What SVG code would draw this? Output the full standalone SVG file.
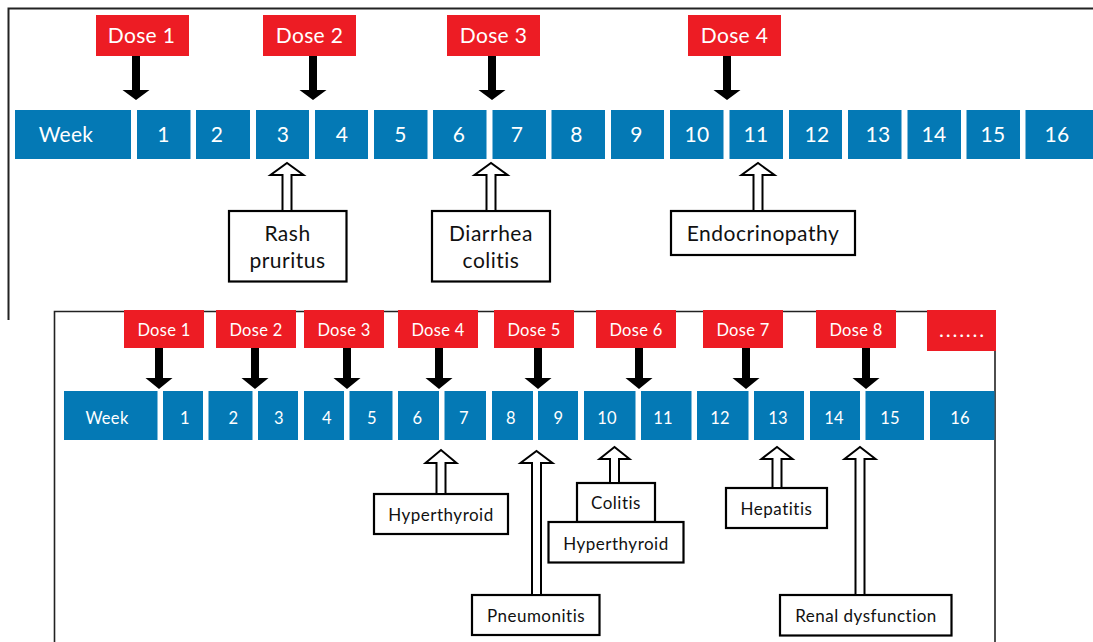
<svg xmlns="http://www.w3.org/2000/svg" width="1093" height="642" viewBox="0 0 1093 642">
<style>
.wk{fill:#0479B5}
.dose{fill:#ED1C24}
.tw{fill:#fff;font-family:Lato,"Noto Sans",sans-serif;text-anchor:middle;letter-spacing:0.3px}
.t1{font-size:21px}
.t2{font-size:16.5px}
.t3{font-size:17px}
.tb{fill:#111;font-family:Lato,"Noto Sans",sans-serif;text-anchor:middle;letter-spacing:0.5px}
.box{fill:#fff;stroke:#000;stroke-width:2.2}
.sa{fill:#000}
.ha{fill:#fff;stroke:#000;stroke-width:2}
.frame{fill:none;stroke:#222}
</style>
<rect width="1093" height="642" fill="#fff"/>
<g id="frames">
<path class="frame" d="M8.5,320 V8.5 H1093" stroke-width="2"/>
<path class="frame" d="M54.5,642 V311.5 H995 V642" stroke-width="1.6"/>
</g>
<!-- Top timeline -->
<g id="top-weeks">
<rect class="wk" x="15" y="110" width="116" height="49"/><text class="tw t1" x="66" y="142">Week</text>
<rect class="wk" x="137" y="110" width="53.5" height="49"/><text class="tw t1" x="163.5" y="142">1</text>
<rect class="wk" x="196" y="110" width="54" height="49"/><text class="tw t1" x="217" y="142">2</text>
<rect class="wk" x="256" y="110" width="53" height="49"/><text class="tw t1" x="283" y="142">3</text>
<rect class="wk" x="315" y="110" width="53" height="49"/><text class="tw t1" x="342" y="142">4</text>
<rect class="wk" x="374" y="110" width="53.5" height="49"/><text class="tw t1" x="400.5" y="142">5</text>
<rect class="wk" x="433" y="110" width="53.5" height="49"/><text class="tw t1" x="459" y="142">6</text>
<rect class="wk" x="492.5" y="110" width="53.5" height="49"/><text class="tw t1" x="517" y="142">7</text>
<rect class="wk" x="551.5" y="110" width="53.5" height="49"/><text class="tw t1" x="576.5" y="142">8</text>
<rect class="wk" x="611" y="110" width="53" height="49"/><text class="tw t1" x="636.5" y="142">9</text>
<rect class="wk" x="670" y="110" width="53.5" height="49"/><text class="tw t1" x="697" y="142">10</text>
<rect class="wk" x="729.5" y="110" width="53.5" height="49"/><text class="tw t1" x="756" y="142">11</text>
<rect class="wk" x="789" y="110" width="53" height="49"/><text class="tw t1" x="817" y="142">12</text>
<rect class="wk" x="848" y="110" width="53.5" height="49"/><text class="tw t1" x="878" y="142">13</text>
<rect class="wk" x="907.5" y="110" width="53.5" height="49"/><text class="tw t1" x="934" y="142">14</text>
<rect class="wk" x="966.5" y="110" width="53.5" height="49"/><text class="tw t1" x="993" y="142">15</text>
<rect class="wk" x="1025.5" y="110" width="67.5" height="49"/><text class="tw t1" x="1057" y="142">16</text>
</g>
<g id="top-doses">
<rect class="dose" x="96" y="15" width="93" height="41"/><text class="tw t1" x="141.5" y="43">Dose 1</text>
<rect class="dose" x="263" y="15" width="93" height="41"/><text class="tw t1" x="309.5" y="43">Dose 2</text>
<rect class="dose" x="447" y="15" width="93" height="41"/><text class="tw t1" x="493.5" y="43">Dose 3</text>
<rect class="dose" x="688" y="15" width="93" height="41"/><text class="tw t1" x="734.5" y="43">Dose 4</text>
</g>
<g id="top-events">
<rect class="box" x="229" y="211" width="117.5" height="70.5"/>
<text class="tb t1" x="287.5" y="241">Rash</text><text class="tb t1" x="287.5" y="268">pruritus</text>
<rect class="box" x="432" y="211" width="118" height="70.5"/>
<text class="tb t1" x="491" y="241">Diarrhea</text><text class="tb t1" x="491" y="268">colitis</text>
<rect class="box" x="671" y="211" width="184" height="44"/>
<text class="tb t1" x="763" y="241">Endocrinopathy</text>
</g>
<!-- Bottom timeline -->
<g id="bottom-weeks">
<rect class="wk" x="64" y="391" width="93.5" height="49"/><text class="tw t2" x="107" y="424">Week</text>
<rect class="wk" x="163" y="391" width="40" height="49"/><text class="tw t2" x="185" y="424">1</text>
<rect class="wk" x="208.5" y="391" width="44" height="49"/><text class="tw t2" x="233.5" y="424">2</text>
<rect class="wk" x="258" y="391" width="40" height="49"/><text class="tw t2" x="279" y="424">3</text>
<rect class="wk" x="304" y="391" width="40" height="49"/><text class="tw t2" x="327" y="424">4</text>
<rect class="wk" x="349.5" y="391" width="43" height="49"/><text class="tw t2" x="372" y="424">5</text>
<rect class="wk" x="398" y="391" width="41" height="49"/><text class="tw t2" x="417.5" y="424">6</text>
<rect class="wk" x="444.5" y="391" width="41.5" height="49"/><text class="tw t2" x="464" y="424">7</text>
<rect class="wk" x="492" y="391" width="41" height="49"/><text class="tw t2" x="511" y="424">8</text>
<rect class="wk" x="538" y="391" width="40" height="49"/><text class="tw t2" x="558.5" y="424">9</text>
<rect class="wk" x="584" y="391" width="51.5" height="49"/><text class="tw t2" x="607" y="424">10</text>
<rect class="wk" x="641" y="391" width="50.5" height="49"/><text class="tw t2" x="663" y="424">11</text>
<rect class="wk" x="697" y="391" width="51.5" height="49"/><text class="tw t2" x="720" y="424">12</text>
<rect class="wk" x="754" y="391" width="50" height="49"/><text class="tw t2" x="778" y="424">13</text>
<rect class="wk" x="810" y="391" width="50" height="49"/><text class="tw t2" x="834" y="424">14</text>
<rect class="wk" x="865.5" y="391" width="58.5" height="49"/><text class="tw t2" x="890" y="424">15</text>
<rect class="wk" x="930" y="391" width="64.5" height="49"/><text class="tw t2" x="960" y="424">16</text>
</g>
<g id="bottom-doses">
<rect class="dose" x="124" y="310" width="80" height="38"/><text class="tw t2" x="164" y="335.5">Dose 1</text>
<rect class="dose" x="216" y="310" width="80" height="38"/><text class="tw t2" x="256" y="335.5">Dose 2</text>
<rect class="dose" x="304" y="310" width="80" height="38"/><text class="tw t2" x="344" y="335.5">Dose 3</text>
<rect class="dose" x="398" y="310" width="80" height="38"/><text class="tw t2" x="438" y="335.5">Dose 4</text>
<rect class="dose" x="494" y="310" width="80" height="38"/><text class="tw t2" x="534" y="335.5">Dose 5</text>
<rect class="dose" x="596" y="310" width="80" height="38"/><text class="tw t2" x="636" y="335.5">Dose 6</text>
<rect class="dose" x="703" y="310" width="80" height="38"/><text class="tw t2" x="743" y="335.5">Dose 7</text>
<rect class="dose" x="816" y="310" width="80" height="38"/><text class="tw t2" x="856" y="335.5">Dose 8</text>
<rect class="dose" x="927" y="310" width="69" height="41"/><text class="tw t2" x="963" y="337" style="font-weight:bold;letter-spacing:2.8px">.......</text>
</g>
<g id="bottom-events">
<rect class="box" x="374" y="494" width="134" height="40"/><text class="tb t3" x="441" y="521">Hyperthyroid</text>
<rect class="box" x="472" y="595" width="127.5" height="40"/><text class="tb t3" x="536" y="621.5">Pneumonitis</text>
<rect class="box" x="577" y="483" width="78" height="39"/><text class="tb t3" x="616" y="508.5">Colitis</text>
<rect class="box" x="548.5" y="522" width="135" height="40.5"/><text class="tb t3" x="616" y="550">Hyperthyroid</text>
<rect class="box" x="726" y="488" width="101" height="40"/><text class="tb t3" x="776.5" y="515">Hepatitis</text>
<rect class="box" x="780" y="595" width="171.5" height="40.5"/><text class="tb t3" x="866" y="621.5">Renal dysfunction</text>
</g>
<g id="connectors">
<!-- top solid dose arrows -->
<polygon class="sa" points="132,56 140,56 140,90 149.5,90 136,100 122.5,90 132,90"/>
<polygon class="sa" points="309,56 317,56 317,90 326.5,90 313,100 299.5,90 309,90"/>
<polygon class="sa" points="488,56 496,56 496,90 505.5,90 492,100 478.5,90 488,90"/>
<polygon class="sa" points="723,56 731,56 731,90 740.5,90 727,100 713.5,90 723,90"/>
<!-- bottom solid dose arrows -->
<polygon class="sa" points="155,348 163,348 163,378 172.5,378 159,389 145.5,378 155,378"/>
<polygon class="sa" points="251,348 259,348 259,378 268.5,378 255,389 241.5,378 251,378"/>
<polygon class="sa" points="343,348 351,348 351,378 360.5,378 347,389 333.5,378 343,378"/>
<polygon class="sa" points="435,348 443,348 443,378 452.5,378 439,389 425.5,378 435,378"/>
<polygon class="sa" points="534,348 542,348 542,378 551.5,378 538,389 524.5,378 534,378"/>
<polygon class="sa" points="635,348 643,348 643,378 652.5,378 639,389 625.5,378 635,378"/>
<polygon class="sa" points="742,348 750,348 750,378 759.5,378 746,389 732.5,378 742,378"/>
<polygon class="sa" points="862,348 870,348 870,378 879.5,378 866,389 852.5,378 862,378"/>
<!-- top hollow event arrows -->
<polygon class="ha" points="282.5,211 291.5,211 291.5,175 303.5,175 287,163 270.5,175 282.5,175"/>
<polygon class="ha" points="486.5,211 495.5,211 495.5,175 507.5,175 491,163 474.5,175 486.5,175"/>
<polygon class="ha" points="753.5,211 762.5,211 762.5,175 774.5,175 758,163 741.5,175 753.5,175"/>
<!-- bottom hollow event arrows -->
<polygon class="ha" points="436.5,494 445.5,494 445.5,463 456.5,463 441,450 425.5,463 436.5,463"/>
<polygon class="ha" points="532,595 541,595 541,463 552.5,463 536.5,451 520.5,463 532,463"/>
<polygon class="ha" points="610,483 619,483 619,459 629.5,459 614.5,447 599.5,459 610,459"/>
<polygon class="ha" points="772.5,488 781.5,488 781.5,459 792.5,459 777,447 761.5,459 772.5,459"/>
<polygon class="ha" points="855.5,595 864.5,595 864.5,459 875.5,459 860,447 844.5,459 855.5,459"/>
</g>
</svg>
